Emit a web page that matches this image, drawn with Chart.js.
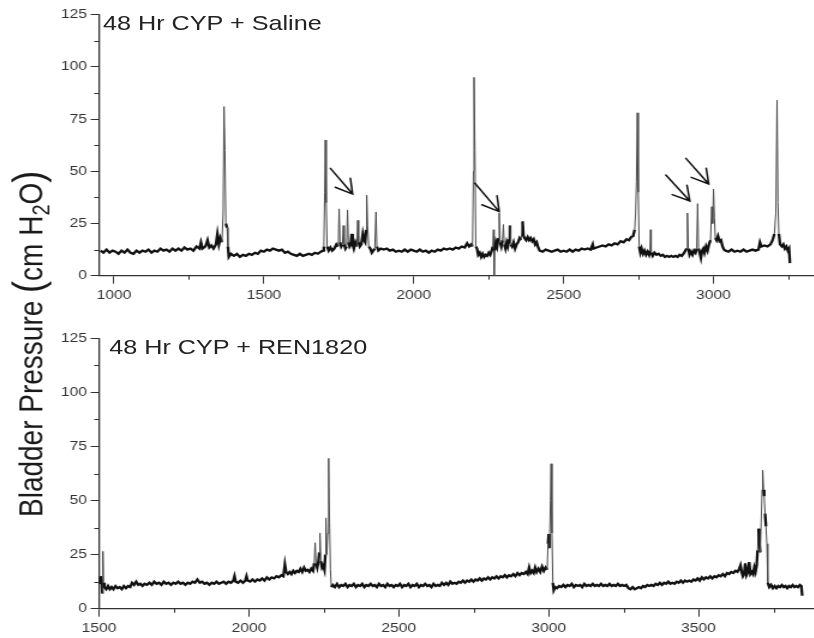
<!DOCTYPE html>
<html><head><meta charset="utf-8">
<script src="https://cdn.jsdelivr.net/npm/chart.js@4.4.1/dist/chart.umd.min.js"></script>
<style>
html,body{margin:0;padding:0;background:#fff;overflow:hidden;width:814px;height:638px}
#stage{position:absolute;left:0;top:0;width:679px;height:638px;transform:scaleX(1.2);transform-origin:0 0}
canvas{position:absolute;left:0}
#c1{top:0}
#c2{top:320px}
.ptitle{position:absolute;font-family:"Liberation Sans",Arial,sans-serif;font-size:21px;line-height:21px;color:#222;white-space:nowrap}
#t1{left:85.8px;top:11.5px}
#t2{left:91px;top:335.5px}
#ytitle{position:absolute;left:12.1px;top:517px;transform-origin:0 0;transform:rotate(-90deg);font-family:"Liberation Sans",Arial,sans-serif;font-size:28px;line-height:28px;white-space:nowrap;color:#1a1a1a}
#ytitle .par{font-size:36px;line-height:0}
#ytitle sub{font-size:20px;line-height:0;vertical-align:-6px}
</style></head>
<body>
<div id="stage">
  <canvas id="c1" width="679" height="305"></canvas>
  <canvas id="c2" width="679" height="318"></canvas>
  <div class="ptitle" id="t1">48 Hr CYP + Saline</div>
  <div class="ptitle" id="t2">48 Hr CYP + REN1820</div>
  <div id="ytitle">Bladder Pressure <span class="par">(</span>cm H<sub>2</sub>O<span class="par">)</span></div>
</div>
<script>
// ---- Data (time in s, pressure in cm H2O) ----
const topTime = [955,965,975,985,995,1005,1015,1025,1035,1045,1055,1065,1075,1085,1095,1105,1115,1125,1135,1145,1155,1165,1175,1185,1195,1205,1215,1225,1235,1245,1255,1265,1275,1285,1290,1295,1305,1312,1318,1325,1332,1340,1345,1350,1355,1360,1364,1367,1370,1373,1377,1380,1383,1390,1400,1410,1420,1430,1440,1450,1460,1470,1480,1490,1500,1510,1520,1530,1540,1550,1560,1570,1580,1590,1600,1610,1620,1630,1640,1650,1660,1670,1680,1690,1697,1700,1703,1705,1708,1711,1716,1722,1728,1735,1742,1748,1751,1754,1758,1762,1765,1768,1772,1776,1779,1782,1786,1790,1793,1796,1800,1805,1810,1813,1816,1820,1825,1830,1834,1838,1841,1843,1846,1850,1855,1860,1865,1870,1874,1877,1882,1890,1900,1910,1920,1930,1940,1950,1960,1970,1980,1990,2000,2010,2020,2030,2040,2050,2060,2070,2080,2090,2100,2110,2120,2130,2140,2150,2160,2170,2178,2185,2192,2196,2199,2201,2204,2207,2211,2215,2220,2225,2230,2235,2240,2245,2250,2255,2260,2264,2266,2268,2270,2274,2278,2282,2285,2288,2292,2296,2299,2302,2306,2310,2314,2318,2321,2324,2328,2333,2338,2343,2348,2353,2358,2363,2366,2370,2375,2380,2385,2390,2395,2400,2405,2410,2415,2420,2430,2440,2450,2460,2470,2480,2490,2500,2510,2520,2530,2540,2550,2560,2570,2580,2590,2597,2600,2610,2620,2630,2640,2650,2660,2670,2680,2690,2700,2710,2718,2725,2732,2737,2740,2743,2746,2749,2752,2756,2760,2765,2770,2775,2780,2785,2788,2790,2792,2797,2803,2810,2817,2824,2831,2838,2845,2852,2859,2866,2873,2880,2887,2894,2900,2906,2910,2913,2916,2920,2925,2930,2935,2940,2944,2947,2950,2954,2958,2962,2966,2970,2975,2980,2985,2990,2994,2997,3000,3003,3006,3010,3015,3020,3025,3030,3035,3040,3050,3060,3070,3080,3090,3100,3110,3120,3130,3140,3150,3155,3160,3170,3180,3190,3197,3203,3208,3212,3215,3218,3222,3228,3233,3238,3243,3248,3252,3255];
const topPressure = [12,11,12.5,11,12,11.5,10.5,12,11,12.5,11,10.5,12,11,12,11.5,12.5,11,12,11.5,13,12,12.5,11.5,13,12,13,12,13.5,12.5,13,12,14,13,16,13,14,17,13.5,14.5,13,15,20,15,18,16,30,81,60,25,23,14,9,10.5,9.5,10.5,9,10,9.5,10.5,10,11,10.5,12,11.5,12.5,12,13,12.5,12,12.5,11,11.5,10.5,10,9.5,10.5,9.5,10,10.5,10,11,10.5,11.5,12,14,40,65,35,14,12,13.5,12,13,15,14,32,16,14,15,24,15,13,14,31.5,16,14,15,20,15,13,16,14,26.5,16,14,15,20,17,16,22,38.5,24,14,13,11,12,13,30.5,14,12,13,12.5,13,12,12.5,11.5,12,11.5,12.5,11.5,12.5,12,11.5,12.5,11.5,12,11,12,11.5,12.5,12,13,12.5,13,12.5,13.5,13,14,13.5,15.5,14,15,14,50,95,60,14,13,10,11,9,10.5,9,10,9.5,11,10,12,14,22,0,12,16,14,18,30,16,14,17,24.5,15,13,16,14,17,24,15,14,16,13,15,16,18,17,26,19,18,17,18.5,17,18,16.5,17.5,15,16,13.5,12,11.5,12.5,12,11.5,12,12.5,11.5,12,11.5,12.5,11.5,12.5,12,13,12.5,13,12.5,15,13,13.5,14,14.5,14,15,14.5,15.5,15,16.5,16,17.5,17,18.5,19,22,30,45,78,40,14,11,13,10.5,12,10,11.5,10,12,22,11,9.5,11,10,10.5,9.5,10,9,9.5,9,9.5,9,9.5,9,10,9.5,10.5,12,13,30,13,10,11.5,10,12,11,13,34.5,13,11,8.5,12,13,11,14,12,15,17,33,25,41.5,28,18,17,19,16.5,17,14,12.5,12,11.5,12.5,11.5,12,11.5,12.5,11.5,12,12.5,12,12.5,16,14,14.5,14,15,17,20,30,84,35,20,15,14,15,13,14,12,13,6];

const bottomTime = [1500,1503,1506,1509,1511,1513,1515,1518,1524,1530,1536,1542,1548,1555,1562,1569,1576,1583,1590,1597,1604,1610,1617,1624,1631,1638,1645,1652,1660,1668,1676,1684,1692,1700,1708,1716,1724,1732,1740,1748,1756,1764,1772,1780,1788,1796,1804,1812,1820,1828,1836,1844,1852,1860,1868,1876,1884,1892,1900,1908,1916,1924,1932,1940,1948,1952,1956,1964,1972,1980,1988,1992,1996,2004,2012,2020,2028,2036,2044,2052,2060,2068,2076,2084,2092,2100,2108,2115,2120,2124,2130,2136,2142,2148,2154,2160,2166,2172,2178,2184,2190,2196,2202,2208,2214,2218,2221,2224,2228,2232,2235,2237,2240,2244,2248,2252,2255,2257,2260,2263,2266,2269,2272,2275,2280,2287,2294,2301,2308,2315,2322,2329,2336,2343,2350,2357,2364,2371,2378,2385,2392,2399,2406,2413,2420,2427,2434,2441,2448,2455,2462,2469,2476,2483,2490,2497,2504,2511,2518,2525,2532,2539,2546,2553,2560,2567,2574,2581,2588,2595,2602,2609,2616,2623,2630,2637,2644,2651,2658,2665,2672,2679,2686,2693,2700,2707,2714,2721,2728,2735,2742,2749,2756,2763,2770,2777,2784,2791,2798,2805,2812,2819,2826,2833,2840,2847,2854,2861,2868,2875,2882,2889,2896,2903,2910,2917,2924,2930,2935,2940,2945,2950,2955,2960,2966,2972,2978,2984,2990,2995,2998,3000,3003,3006,3008,3011,3014,3017,3022,3028,3035,3042,3049,3056,3063,3070,3077,3084,3091,3098,3105,3112,3119,3126,3133,3140,3147,3154,3161,3168,3175,3182,3189,3196,3203,3210,3217,3224,3231,3238,3245,3252,3259,3266,3273,3280,3287,3294,3301,3308,3315,3322,3329,3336,3343,3350,3357,3364,3371,3378,3385,3392,3399,3406,3413,3420,3427,3434,3441,3448,3455,3462,3469,3476,3483,3490,3497,3504,3511,3518,3525,3532,3539,3546,3553,3560,3567,3574,3581,3588,3595,3602,3609,3616,3623,3630,3636,3640,3644,3648,3652,3656,3660,3665,3669,3673,3678,3682,3686,3690,3694,3697,3700,3703,3706,3709,3712,3714,3717,3719,3722,3725,3728,3731,3736,3742,3748,3754,3760,3766,3772,3778,3784,3790,3796,3802,3808,3814,3820,3826,3832,3838,3843,3846];
const bottomPressure = [14,12,15,13,7,26.5,12,10,9,10.5,9,10,9,10.5,9.5,10,9,10.5,9.5,10.5,10,12,11,12.5,11,11.5,10.5,11.5,11,12,11,12.5,11.5,12,11,12.5,11.5,12,11,12,11.5,12.5,11.5,12,11,12,11.5,12.5,12,13.5,12,12.5,11.5,12,11,12,11.5,12.5,11.5,12,12.5,11.5,12.5,12,13,15,12.5,12,13,12,13,15,13,12.5,13.5,12.5,13.5,13,14,13,14.5,13.5,14.5,14,15,14.5,15.5,15,20.5,17,16,17,16,17.5,16.5,17.5,17,18.5,17,19,17.5,18,17,18.5,17.5,21,30.5,21,19,22,26,35,22,19,20,18,25,42,25,35,69.5,40,18,10,11,10,11.5,10,11,10.5,11.5,10,11,10.5,11.5,10,11,10.5,11.5,10,11,10.5,11.5,10.5,11,10,11.5,10.5,11,10,11.5,10.5,11,10,11,10.5,11.5,10,11,10.5,11.5,10,11,10.5,11.5,10,11,10.5,11.5,10.5,11,10,11.5,10.5,11,10.5,12,11,12,11,12.5,11.5,12,11.5,12.5,12,13,12,13,12.5,13.5,12.5,13.5,13,14,13,14,13.5,14.5,13.5,14.5,14,15,14,15,14.5,15.5,14.5,15.5,15,16,15,16.5,15.5,16.5,16,17,16,19,16.5,17.5,16.5,19,17,18.5,17,19.5,17.5,19,18,30,34.5,28,50,67,35,12,8.5,10,9.5,10.5,10,11,10,11,10.5,11.5,10,11,10.5,11,10,11.5,10.5,11,10.5,11.5,10.5,11,10.5,11.5,10.5,11,10.5,11.5,10.5,11,10.5,11.5,10.5,11,10.5,11,9.5,9,10,9,9.5,10,9.5,10.5,10,11,10.5,11,10.5,11.5,11,12,11,12,11.5,12.5,11.5,12,11.5,12.5,12,13,12,13,12.5,13,12.5,13.5,13,14,13,14.5,13.5,14.5,14,15,14,15,14.5,15.5,15,16,15,16.5,16,17,16.5,17.5,17,18.5,20,17,15,16,21,15.5,17,21.5,16,17,16,19,17,20,27,37,30,26,40,55,64,55,52,44,38,30,12,10,11,9.5,10.5,9.5,10.5,10,11,10,10.5,9.5,10.5,10,11,10,10.5,10,11,10.5,6];

// ---- Axes ----
const yTickValues = [0, 25, 50, 75, 100, 125];
const yMinorValues = [12.5, 37.5, 62.5, 87.5, 112.5];
const topXTicks = [1000, 1500, 2000, 2500, 3000];
const topXMinor = [1250, 1750, 2250, 2750, 3250];
const bottomXTicks = [1500, 2000, 2500, 3000, 3500];
const bottomXMinor = [1750, 2250, 2750, 3250, 3750];
const topXRange = [950, 3338];
const bottomXRange = [1500, 3888];

// ---- Arrows (tail time, tail pressure, tip time, tip pressure) ----
const topArrows = [
  [1722, 51.4, 1796, 39.1],
  [2204, 44.3, 2285, 30.7],
  [2841, 48.2, 2921, 35.8],
  [2908, 56.2, 2984, 43.9]
];

const AXIS = '#333';
const FONT = '"Liberation Sans", Arial, sans-serif';

const minorTicksPlugin = {
  id: 'minorTicks',
  afterDraw(chart, args, opts) {
    const ctx = chart.ctx, xs = chart.scales.x, ys = chart.scales.y;
    ctx.save();
    ctx.strokeStyle = AXIS; ctx.lineWidth = 1;
    ctx.beginPath();
    (opts.yMinor || []).forEach(v => {
      const p = Math.round(ys.getPixelForValue(v)) + 0.5;
      ctx.moveTo(ys.right - 4, p); ctx.lineTo(ys.right, p);
    });
    (opts.xMinor || []).forEach(v => {
      const p = Math.round(xs.getPixelForValue(v)) + 0.5;
      ctx.moveTo(p, xs.top); ctx.lineTo(p, xs.top + 4);
    });
    ctx.stroke();
    ctx.restore();
  }
};

const arrowsPlugin = {
  id: 'arrows',
  afterDatasetsDraw(chart, args, opts) {
    const list = opts.items || [];
    if (!list.length) return;
    const ctx = chart.ctx, xs = chart.scales.x, ys = chart.scales.y;
    ctx.save();
    ctx.strokeStyle = '#111'; ctx.lineWidth = 1.5; ctx.lineCap = 'round';
    list.forEach(a => {
      const x0 = xs.getPixelForValue(a[0]), y0 = ys.getPixelForValue(a[1]);
      const x1 = xs.getPixelForValue(a[2]), y1 = ys.getPixelForValue(a[3]);
      const ang = Math.atan2(y1 - y0, x1 - x0);
      const hl = 16, ha = 29 * Math.PI / 180;
      ctx.beginPath();
      ctx.moveTo(x0, y0); ctx.lineTo(x1, y1);
      ctx.moveTo(x1 - hl * Math.cos(ang - ha), y1 - hl * Math.sin(ang - ha));
      ctx.lineTo(x1, y1);
      ctx.lineTo(x1 - hl * Math.cos(ang + ha), y1 - hl * Math.sin(ang + ha));
      ctx.stroke();
    });
    ctx.restore();
  }
};

function makeChart(id, times, pressures, xRange, xTicks, xMinor, areaTop, areaBottom, canvasH, arrows) {
  const pts = times.map((t, i) => ({ x: t, y: pressures[i] }));
  const steep = c => Math.abs(c.p1.parsed.y - c.p0.parsed.y) > 7;
  return new Chart(document.getElementById(id), {
    type: 'scatter',
    data: {
      datasets: [{
        data: pts,
        showLine: true,
        pointRadius: 0,
        borderColor: '#111',
        borderWidth: 2.2,
        tension: 0,
        segment: {
          borderWidth: c => steep(c) ? 1 : 2.3,
          borderColor: c => steep(c) ? '#4a4a4a' : '#111'
        }
      }]
    },
    options: {
      responsive: false,
      animation: false,
      devicePixelRatio: 1,
      layout: { padding: { left: 0, right: 0, top: areaTop, bottom: 0 } },
      plugins: {
        legend: { display: false },
        tooltip: { enabled: false },
        minorTicks: { yMinor: yMinorValues, xMinor: xMinor },
        arrows: { items: arrows }
      },
      scales: {
        x: {
          type: 'linear', min: xRange[0], max: xRange[1],
          afterBuildTicks: s => { s.ticks = xTicks.map(v => ({ value: v })); },
          afterFit: s => { s.height = canvasH - areaBottom; s.paddingLeft = 0; s.paddingRight = 0; },
          grid: { drawOnChartArea: false, drawTicks: true, tickLength: 8, tickColor: AXIS, tickWidth: 1 },
          border: { display: true, color: AXIS, width: 1.3 },
          ticks: { color: '#333', font: { family: FONT, size: 13 }, padding: 4, maxRotation: 0, autoSkip: false,
                   callback: v => String(v) }
        },
        y: {
          type: 'linear', min: 0, max: 125,
          afterBuildTicks: s => { s.ticks = yTickValues.map(v => ({ value: v })); },
          afterFit: s => { s.width = 82.5; s.paddingTop = 0; s.paddingBottom = 0; },
          grid: { drawOnChartArea: false, drawTicks: true, tickLength: 7, tickColor: AXIS, tickWidth: 1 },
          border: { display: true, color: AXIS, width: 1.3 },
          ticks: { color: '#333', font: { family: FONT, size: 13 }, padding: 3, autoSkip: false,
                   callback: v => String(v) }
        }
      }
    },
    plugins: [minorTicksPlugin, arrowsPlugin]
  });
}

makeChart('c1', topTime, topPressure, topXRange, topXTicks, topXMinor, 14.7, 275.7, 305, topArrows);
makeChart('c2', bottomTime, bottomPressure, bottomXRange, bottomXTicks, bottomXMinor, 18.3, 288.7, 318, []);
</script>
</body></html>
